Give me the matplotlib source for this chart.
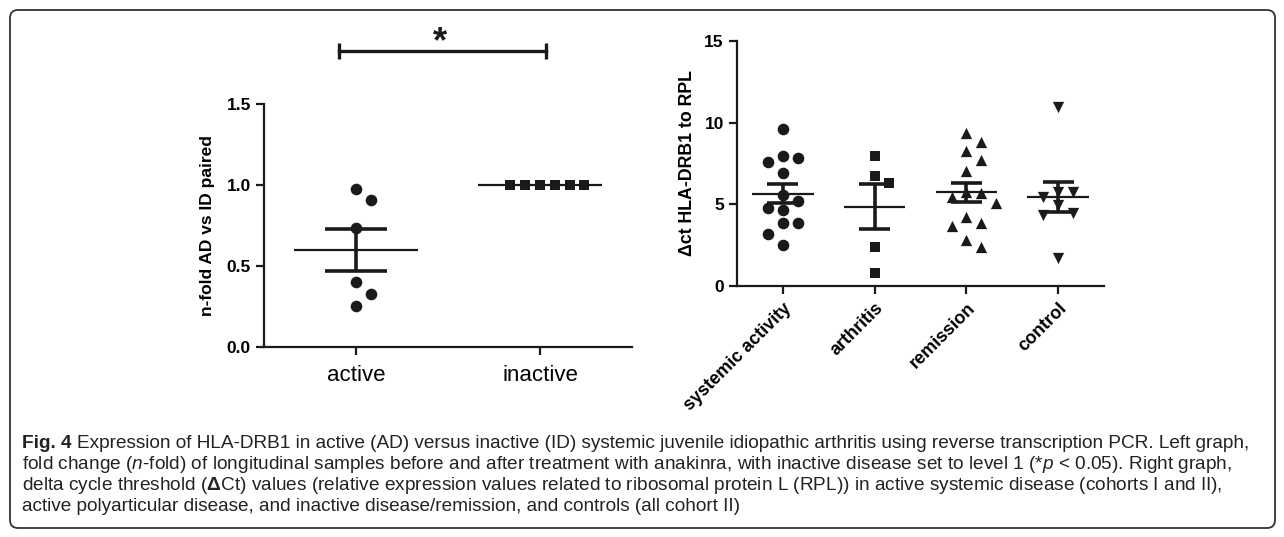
import numpy as np
import matplotlib.pyplot as plt
from matplotlib.patches import FancyBboxPatch
from matplotlib.transforms import IdentityTransform

plt.rcParams['font.family'] = ['Liberation Sans', 'DejaVu Sans']
plt.rcParams['mathtext.fontset'] = 'custom'
plt.rcParams['mathtext.rm'] = 'Liberation Sans'
plt.rcParams['mathtext.it'] = 'Liberation Sans:italic'
plt.rcParams['mathtext.bf'] = 'Liberation Sans:bold'

# left graph: n-fold AD vs ID (paired)
paired_groups = ['active', 'inactive']
active_fold = [0.975, 0.91, 0.735, 0.40, 0.327, 0.253]
inactive_fold = [1.0, 1.0, 1.0, 1.0, 1.0, 1.0]

# right graph: delta ct HLA-DRB1 to RPL
cohorts = ['systemic activity', 'arthritis', 'remission', 'control']
systemic_dct = [9.61, 7.96, 7.86, 7.61, 6.90, 5.57, 5.22, 4.80, 4.65, 3.88, 3.84, 3.16, 2.51]
arthritis_dct = [7.98, 6.76, 6.29, 2.41, 0.82]
remission_dct = [9.35, 8.84, 8.29, 7.72, 7.04, 5.78, 5.71, 5.43, 5.06, 4.21, 3.84, 3.67, 2.82, 2.41]
control_dct = [10.98, 5.78, 5.78, 5.47, 4.96, 4.45, 4.35, 1.70]
cohort_markers = ['o', 's', '^', 'v']

fig_label = 'Fig. 4'
caption = [
    'Expression of HLA-DRB1 in active (AD) versus inactive (ID) systemic juvenile idiopathic arthritis using reverse transcription PCR. Left graph,',
    r'fold change ($\mathit{n}$-fold) of longitudinal samples before and after treatment with anakinra, with inactive disease set to level 1 (*$\mathit{p}$ < 0.05). Right graph,',
    r'delta cycle threshold ($\mathbf{\Delta}$Ct) values (relative expression values related to ribosomal protein L (RPL)) in active systemic disease (cohorts I and II),',
    'active polyarticular disease, and inactive disease/remission, and controls (all cohort II)',
]

W, H = 1284, 537
ink = '#1a1a1a'


def swarm_x(ax, xc, vals, step=14.8, gap=12.8):
    # lay points sideways where they would overlap (column scatter)
    pts = ax.transData.transform(np.column_stack([np.full(len(vals), xc), vals]))
    placed = []
    xs = np.zeros(len(vals))
    for i in np.argsort(vals)[::-1]:
        px, py = pts[i]
        k = 0
        while True:
            off = ((k + 1) // 2) * (1 if k % 2 == 1 else -1)
            cx = px + off * step
            if all(np.hypot(cx - qx, py - qy) >= gap for qx, qy in placed):
                break
            k += 1
        placed.append((cx, py))
        xs[i] = ax.transData.inverted().transform((cx, py))[0]
    return xs


def mean_sem(ax, xc, vals):
    v = np.asarray(vals)
    m = v.mean()
    s = v.std(ddof=1) / np.sqrt(len(v)) if v.std() > 0 else 0
    ax.hlines(m, xc - 0.335, xc + 0.335, color=ink, lw=1.6, zorder=4)
    if s > 0:
        ax.hlines([m - s, m + s], xc - 0.17, xc + 0.17, color=ink, lw=2.6, zorder=4)
        ax.vlines(xc, m - s, m + s, color=ink, lw=2.6, zorder=4)


def style(ax):
    for sp in ['top', 'right']:
        ax.spines[sp].set_visible(False)
    for sp in ['left', 'bottom']:
        ax.spines[sp].set_linewidth(1.6)
        ax.spines[sp].set_color(ink)
    ax.tick_params(direction='out', length=6, width=1.6, color=ink)
    for lab in ax.get_yticklabels():
        lab.set_fontweight('bold')
        lab.set_fontsize(12.5)


fig = plt.figure(figsize=(W / 100, H / 100), dpi=100)

# frame round the whole figure
fig.add_artist(FancyBboxPatch((10, 9), 1265, 518, boxstyle='round,pad=0,rounding_size=8',
                              transform=IdentityTransform(), fill=False, ec='#333333', lw=1.3))

# ---- left graph
ax1 = fig.add_axes([264 / W, 1 - 347 / H, 368 / W, 243 / H])
ax1.set_xlim(-0.5, 1.5)
ax1.set_ylim(0, 1.5)
ax1.set_yticks([0, 0.5, 1.0, 1.5])
ax1.set_yticklabels(['%.1f' % t for t in [0, 0.5, 1.0, 1.5]])
ax1.set_xticks([0, 1])
ax1.set_xticklabels(paired_groups, fontsize=16)
ax1.tick_params(axis='x', pad=7)
style(ax1)

ax1.scatter(swarm_x(ax1, 0, active_fold), active_fold, marker='o', s=70, color=ink,
            lw=0, zorder=3, clip_on=False)
ax1.scatter(swarm_x(ax1, 1, inactive_fold), inactive_fold, marker='s', s=54, color=ink,
            lw=0, zorder=3, clip_on=False)
mean_sem(ax1, 0, active_fold)
mean_sem(ax1, 1, inactive_fold)
ax1.set_ylabel('n-fold AD vs ID paired', fontsize=12.5, fontweight='bold')
ax1.yaxis.set_label_coords(-0.133, 0.5)

# significance bar
bar_y, cap_h = 1.827, 0.05
ax1.plot([-0.09, 1.03], [bar_y, bar_y], color=ink, lw=2.4, clip_on=False)
ax1.vlines([-0.09, 1.03], bar_y - cap_h, bar_y + cap_h, color=ink, lw=2.4, clip_on=False)
ax1.text(0.455, bar_y - 0.01, '*', fontsize=26, fontweight='bold', ha='center',
         va='baseline', color=ink)

# ---- right graph
ax2 = fig.add_axes([737 / W, 1 - 286 / H, 367 / W, 245 / H])
ax2.set_xlim(-0.5, 3.5)
ax2.set_ylim(0, 15)
ax2.set_yticks([0, 5, 10, 15])
ax2.set_xticks(range(len(cohorts)))
ax2.set_xticklabels(cohorts, rotation=45, ha='right', va='top', rotation_mode='anchor',
                    fontsize=13, fontweight='bold')
ax2.tick_params(axis='x', pad=4)
style(ax2)

for i, (vals, mk) in enumerate(zip([systemic_dct, arthritis_dct, remission_dct, control_dct],
                                   cohort_markers)):
    size = 54 if mk == 's' else (66 if mk in '^v' else 70)
    ax2.scatter(swarm_x(ax2, i, vals), vals, marker=mk, s=size, color=ink, lw=0,
                zorder=3, clip_on=False)
    mean_sem(ax2, i, vals)
ax2.set_ylabel('\u0394ct HLA-DRB1 to RPL', fontsize=12.8, fontweight='bold')
ax2.yaxis.set_label_coords(-0.112, 0.5)

# ---- caption, fitted to the width of the frame
r = fig.canvas.get_renderer()


def text_w(s, size, **kw):
    t = fig.text(0, 0, s, fontsize=size, **kw)
    w = t.get_window_extent(r).width
    t.remove()
    return w


space_w = text_w('x x', 10) - text_w('xx', 10)
line1_w = text_w(fig_label, 10, fontweight='bold') + space_w + text_w(caption[0], 10)
cap_size = 10 * 1240 / line1_w
space_w *= cap_size / 10

x0 = 22
lab = fig.text(x0 / W, 1 - 448 / H, fig_label, fontsize=cap_size, fontweight='bold',
               va='baseline', color='#222222')
x_rest = lab.get_window_extent(r).x1 + space_w
for j, line in enumerate(caption):
    x = x_rest if j == 0 else x0
    fig.text(x / W, 1 - (448 + 21 * j) / H, line, fontsize=cap_size, va='baseline',
             color='#222222')

fig.savefig('out.png', dpi=100)
